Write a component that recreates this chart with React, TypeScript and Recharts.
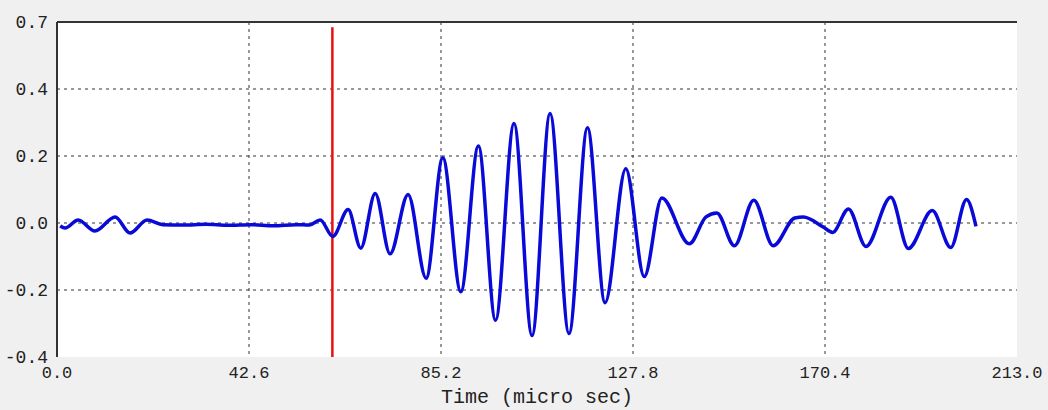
import { LineChart, Line, XAxis, YAxis, CartesianGrid, ReferenceLine, Label } from 'recharts'

// waveform (time in micro sec, amplitude)
const timeUs = [
  0.7, 1.8, 4.7, 8.4, 12.9, 16.2, 20.0, 23.5, 28, 33, 38, 43, 48, 53, 56.0, 58.4,
  61.2, 64.6, 67.4, 70.6, 73.9, 77.9, 81.9, 85.6, 89.6, 93.5, 97.3, 101.4, 105.4, 109.4,
  113.6, 117.7, 121.6, 126.2, 130.3, 134.2, 140.3, 144.0, 146.4, 150.3, 154.6, 158.9,
  163.7, 165.6, 170.0, 172.1, 175.6, 179.5, 185.0, 188.9, 194.2, 198.3, 201.8, 203.9,
]
const amplitude = [
  -0.009, -0.015, 0.009, -0.024, 0.018, -0.03, 0.009, -0.005, -0.006, -0.004, -0.007, -0.005, -0.008, -0.005, -0.006, 0.009,
  -0.04, 0.04, -0.075, 0.088, -0.092, 0.085, -0.165, 0.195, -0.205, 0.23, -0.29, 0.297, -0.336, 0.327,
  -0.33, 0.284, -0.238, 0.162, -0.16, 0.075, -0.062, 0.018, 0.03, -0.068, 0.068, -0.068,
  0.015, 0.018, -0.012, -0.028, 0.042, -0.07, 0.077, -0.076, 0.037, -0.073, 0.07, -0.01,
]

const xTicks = [0, 42.6, 85.2, 127.8, 170.4, 213]
const xGrid = [42.6, 85.2, 127.8, 170.4]
const yTicks = [-0.4, -0.2, 0, 0.2, 0.4, 0.6]
const yTickLabels = ['-0.4', '-0.2', '0.0', '0.2', '0.4', '0.7']
const yGrid = [-0.2, 0, 0.2, 0.4]
const markerTime = 61.1

const data = timeUs.map((t, i) => ({ t, v: amplitude[i] }))

const mono = '"Liberation Mono", "DejaVu Sans Mono", monospace'

export default function App() {
  return (
    <div style={{ position: 'absolute', left: 0, top: 0, width: 1048, height: 410, background: '#f0f0f0' }}>
      <LineChart width={1048} height={410} data={data} margin={{ top: 22, right: 31, bottom: 0, left: 0 }}>
        <CartesianGrid
          fill="#ffffff"
          stroke="#333"
          strokeDasharray="3 4"
          horizontalValues={yGrid}
          verticalValues={xGrid}
        />
        <XAxis
          dataKey="t"
          type="number"
          domain={[0, 213]}
          ticks={xTicks}
          tickFormatter={(v: number) => v.toFixed(1)}
          axisLine={false}
          tickLine={false}
          height={53}
          tickMargin={3}
          tick={{ fontFamily: mono, fontSize: 17, fill: '#222' }}
        >
          <Label value="Time (micro sec)" position="insideBottom" offset={7} style={{ fontFamily: mono, fontSize: 20, fill: '#222' }} />
        </XAxis>
        <YAxis
          type="number"
          domain={[-0.4, 0.6]}
          ticks={yTicks}
          tickFormatter={(v: number) => yTickLabels[yTicks.indexOf(v)] ?? ''}
          width={57}
          tickLine={false}
          tickMargin={3}
          axisLine={{ stroke: '#333', strokeWidth: 2 }}
          tick={{ fontFamily: mono, fontSize: 18, fill: '#222' }}
          allowDataOverflow
        />
        <ReferenceLine y={0.6} stroke="#333" strokeWidth={2} />
        <ReferenceLine
          segment={[{ x: markerTime, y: -0.4 }, { x: markerTime, y: 0.584 }]}
          stroke="#e81010"
          strokeWidth={2.5}
        />
        <Line
          type="monotone"
          dataKey="v"
          stroke="#0a0ad8"
          strokeWidth={3.5}
          dot={false}
          isAnimationActive={false}
        />
      </LineChart>
    </div>
  )
}
